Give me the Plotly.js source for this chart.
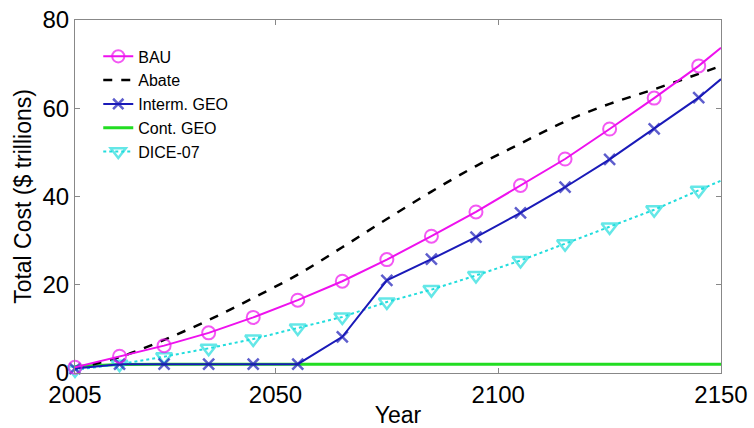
<!DOCTYPE html>
<html><head><meta charset="utf-8">
<script src="https://cdn.plot.ly/plotly-3.0.1.min.js"></script>
<style>html,body{margin:0;padding:0;background:#fff}#chart{width:754px;height:428px}</style>
</head><body><div id="chart"></div>
<script>
const years = [2005,2015,2025,2035,2045,2055,2065,2075,2085,2095,2105,2115,2125,2135,2145,2150];
const bau = [1.3,3.8,6.2,9.1,12.6,16.5,20.8,25.7,31.0,36.5,42.5,48.5,55.3,62.3,69.6,73.7];
const abate = [1.0,3.6,7.5,12.0,17.0,22.3,28.5,34.9,41.1,46.9,52.0,57.0,61.0,64.3,67.8,69.6];
const interm = [1.0,2.0,2.0,2.0,2.0,2.0,8.2,21.0,25.8,30.8,36.3,42.1,48.4,55.3,62.4,66.6];
const cont = [1.5,1.9,2.0,2.0,2.0,2.0,2.0,2.0,2.0,2.0,2.0,2.0,2.0,2.0,2.0,2.0];
const dice = [0.7,2.0,3.7,5.6,7.7,10.2,12.7,16.1,18.9,22.1,25.5,29.3,33.1,37.0,41.4,43.6];
const names = ['BAU','Abate','Interm. GEO','Cont. GEO','DICE-07'];
const xTicks = [2005,2050,2100,2150];
const yTicks = [0,20,40,60,80];

const msz = s => years.map(y => y === 2150 ? 0 : s);
const traces = [
  {x:years,y:bau,name:names[0],mode:'lines+markers',line:{color:'#ee11ee',width:2},
   marker:{symbol:'circle-open',size:msz(13),color:'#ee11ee',line:{width:2}},legendgroup:'a'},
  {x:years,y:abate,name:names[1],mode:'lines',line:{color:'#000',width:2.5,dash:'dash',shape:'spline'},legendgroup:'b'},
  {x:years,y:interm,name:names[2],mode:'lines+markers',line:{color:'#1a1ab8',width:2},
   marker:{symbol:'x-thin-open',size:msz(11),color:'#1a1ab8',line:{width:2.5,color:'#1a1ab8'}},legendgroup:'c'},
  {x:years,y:cont,name:names[3],mode:'lines',line:{color:'#22dd22',width:3},legendgroup:'d'},
  {x:years,y:dice,name:names[4],mode:'lines+markers',line:{color:'#22dddd',width:2,dash:'dot'},
   marker:{symbol:'triangle-down-open',size:msz(14),color:'#22dddd',line:{width:2.5}},legendgroup:'e'}
];
const order = [3,1,4,2,0];
const data = order.map(i => Object.assign({cliponaxis:false, legendrank:i+1}, traces[i]));

const fam = 'Arial, Liberation Sans, sans-serif';
const axCommon = {showgrid:false,zeroline:false,showline:true,linecolor:'#888',linewidth:1,
  mirror:'ticks',ticks:'inside',ticklen:5,tickcolor:'#888',
  tickfont:{family:fam,size:24,color:'#000'}};
const layout = {
  width:754,height:428,margin:{l:75,r:33,t:20,b:55},
  paper_bgcolor:'#fff',plot_bgcolor:'#fff',
  font:{family:fam,color:'#000'},
  xaxis:Object.assign({},axCommon,{range:[2005,2150],tickvals:xTicks,ticktext:xTicks.map(String),
    title:{text:'Year',font:{size:23},standoff:0}}),
  yaxis:Object.assign({},axCommon,{range:[0,80],tickvals:yTicks,ticktext:yTicks.map(String),
    title:{text:'Total Cost ($ trillions)',font:{size:23},standoff:4}}),
  legend:{x:0.036,y:0.945,xanchor:'left',yanchor:'top',bgcolor:'rgba(0,0,0,0)',borderwidth:0,
    font:{size:16},traceorder:'grouped',tracegroupgap:0,itemwidth:30},
  showlegend:true
};
Plotly.newPlot('chart',data,layout,{displayModeBar:false,staticPlot:true});
</script></body></html>
